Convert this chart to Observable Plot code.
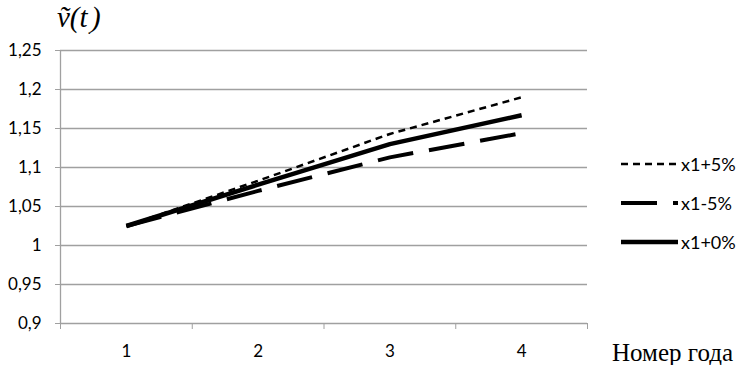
<!DOCTYPE html>
<html>
<head>
<meta charset="utf-8">
<script src="https://cdn.jsdelivr.net/npm/d3@7"></script>
<script src="https://cdn.jsdelivr.net/npm/@observablehq/plot@0.6"></script>
<style>
  body { margin: 0; background: #fff; }
  #wrap { position: relative; width: 743px; height: 365px; overflow: hidden; }
  #ytitle { position: absolute; left: 57px; top: 0px; font-family: "Liberation Serif", serif; font-style: italic; font-size: 29px; line-height: 34px; color: #000; white-space: nowrap; }
  #ytitle sub { font-size: 14px; font-style: normal; }
  #xtitle { position: absolute; left: 612px; top: 338px; font-family: "Liberation Serif", serif; font-size: 25px; line-height: 30px; color: #000; white-space: nowrap; }
  #legend { position: absolute; left: 621px; top: 144px; font-family: Lato, sans-serif; font-size: 18px; }
  .row { display: flex; align-items: center; height: 39px; }
  .row svg { display: block; }
  .row span { margin-left: 3px; }
</style>
</head>
<body>
<div id="wrap">
  <div id="ytitle">ṽ(t<sub>.</sub>)</div>
  <div id="legend"></div>
  <div id="xtitle">Номер года</div>
</div>
<script>
const years = [1, 2, 3, 4];
const plus5 = [1.025, 1.083, 1.143, 1.19];
const minus5 = [1.025, 1.070, 1.113, 1.144];
const zero = [1.025, 1.078, 1.130, 1.167];
const yTicks = [0.9, 0.95, 1, 1.05, 1.1, 1.15, 1.2, 1.25];
const seriesNames = ["x1+5%", "x1-5%", "x1+0%"];

const styles = {
  "x1+5%": {dash: "7,5", width: 2.5},
  "x1-5%": {dash: "36,16", width: 4},
  "x1+0%": {dash: null, width: 4.5}
};
const seriesValues = {"x1+5%": plus5, "x1-5%": minus5, "x1+0%": zero};

const boundaries = [years[0] - 0.5, ...years.map(y => y + 0.5)];
const fmt = d => String(+d.toFixed(2)).replace(".", ",");
const gray = "#a0a0a0";

const lineMarks = seriesNames.map(name =>
  Plot.line(years.map((y, i) => ({year: y, v: seriesValues[name][i]})), {
    x: "year", y: "v", stroke: "#000",
    strokeWidth: styles[name].width,
    strokeDasharray: styles[name].dash,
    strokeLinecap: "butt", strokeLinejoin: "round"
  })
);

const chart = Plot.plot({
  width: 743, height: 365,
  marginLeft: 60, marginRight: 156, marginTop: 50, marginBottom: 42,
  style: {fontFamily: "Lato, sans-serif", fontSize: "17px", color: "#000", background: "transparent"},
  x: {type: "linear", domain: [boundaries[0], boundaries[boundaries.length - 1]]},
  y: {domain: [0.9, 1.25]},
  marks: [
    Plot.ruleY(yTicks, {stroke: gray, strokeWidth: 1.3}),
    Plot.ruleX([boundaries[0]], {stroke: gray, strokeWidth: 1.3}),
    Plot.axisY({ticks: yTicks, tickSize: 5, tickPadding: 14, tickFormat: fmt, stroke: gray, label: null, fill: "#000", fontSize: 17}),
    Plot.axisX({ticks: boundaries, tickSize: 6, tickFormat: () => "", stroke: gray, label: null}),
    Plot.axisX({ticks: years, tickSize: 0, tickPadding: 21, tickFormat: d => String(d), label: null, fill: "#000", fontSize: 17}),
    ...lineMarks
  ]
});
chart.style.position = "absolute";
chart.style.left = "0";
chart.style.top = "0";
document.getElementById("wrap").prepend(chart);

const legend = document.getElementById("legend");
for (const name of seriesNames) {
  const row = document.createElement("div");
  row.className = "row";
  const s = styles[name];
  row.innerHTML = `<svg width="57" height="10"><line x1="0" x2="57" y1="5" y2="5" stroke="#000" stroke-width="${s.width}" ${s.dash ? `stroke-dasharray="${s.dash}"` : ""}/></svg><span>${name}</span>`;
  legend.appendChild(row);
}
</script>
</body>
</html>
